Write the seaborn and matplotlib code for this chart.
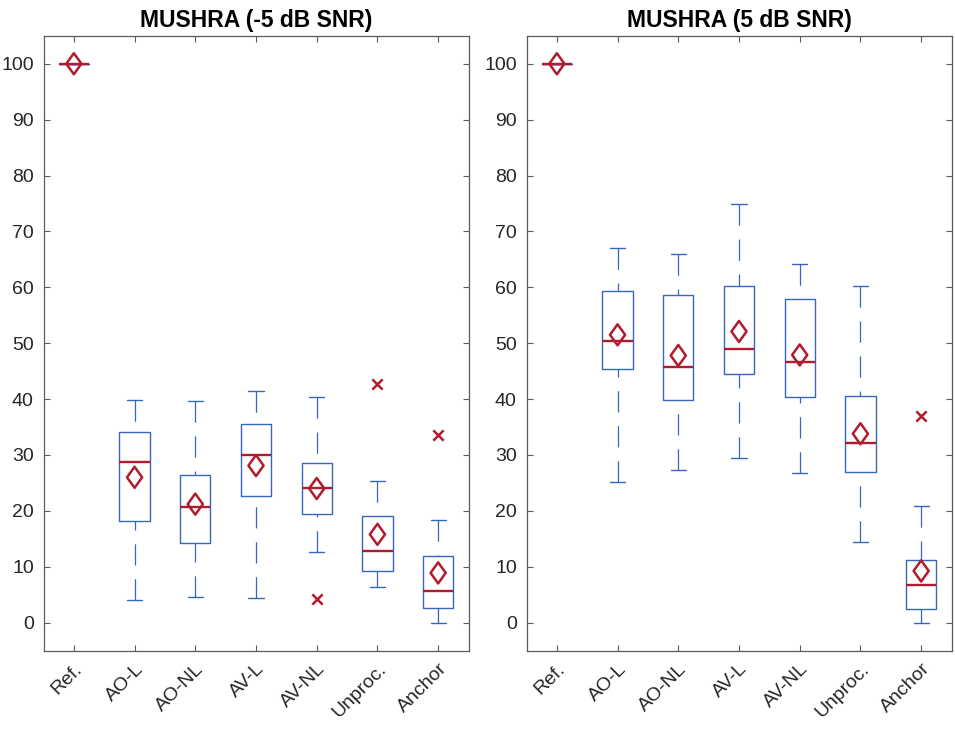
import numpy as np
import pandas as pd
import matplotlib
matplotlib.use("Agg")
import matplotlib.pyplot as plt
from matplotlib.path import Path
import seaborn as sns

categories = ["Ref.", "AO-L", "AO-NL", "AV-L", "AV-NL", "Unproc.", "Anchor"]

# -5 dB SNR
low_whislo = [100, 4.0, 4.6, 4.35, 12.6, 6.4, 0.0]
low_q1 = [100, 18.1, 14.2, 22.6, 19.5, 9.3, 2.7]
low_med = [100, 28.8, 20.75, 30.05, 24.15, 12.8, 5.7]
low_q3 = [100, 34.05, 26.5, 35.5, 28.55, 19.0, 12.0]
low_whishi = [100, 39.8, 39.65, 41.4, 40.3, 25.4, 18.4]
low_mean = [100, 26.0, 21.2, 28.1, 24.0, 15.8, 8.9]
low_fliers = [[], [], [], [], [4.2], [42.7], [33.5]]

# 5 dB SNR
high_whislo = [100, 25.1, 27.4, 29.4, 26.7, 14.5, 0.0]
high_q1 = [100, 45.3, 39.8, 44.5, 40.4, 27.0, 2.45]
high_med = [100, 50.4, 45.8, 49.0, 46.6, 32.15, 6.75]
high_q3 = [100, 59.3, 58.6, 60.2, 57.9, 40.5, 11.2]
high_whishi = [100, 67.0, 65.95, 74.9, 64.1, 60.2, 20.9]
high_mean = [100, 51.5, 47.8, 52.1, 47.9, 33.8, 9.25]
high_fliers = [[], [], [], [], [], [], [37.0]]

titles = ["MUSHRA (-5 dB SNR)", "MUSHRA (5 dB SNR)"]
yticks = list(range(0, 101, 10))

BLUE = "#3467c2"
RED = "#b01c2e"
GRAY = "#5a5a5a"

sns.set_theme(style="ticks")
plt.rcParams["font.family"] = ["Liberation Sans", "DejaVu Sans"]

fig = plt.figure(figsize=(9.55, 7.3), dpi=100)
W, H = 955, 730
ax_top, ax_bot = 35.8, 650.6
axes = [
    fig.add_axes([43.5 / W, (H - ax_bot) / H, 425 / W, (ax_bot - ax_top) / H]),
    fig.add_axes([526.5 / W, (H - ax_bot) / H, 425 / W, (ax_bot - ax_top) / H]),
]

diamond = Path([(0, 1), (0.72, 0), (0, -1), (-0.72, 0), (0, 1)],
               [Path.MOVETO, Path.LINETO, Path.LINETO, Path.LINETO, Path.CLOSEPOLY])

sets = [
    (low_whislo, low_q1, low_med, low_q3, low_whishi, low_mean, low_fliers),
    (high_whislo, high_q1, high_med, high_q3, high_whishi, high_mean, high_fliers),
]

for ax, title, (wlo, q1, med, q3, whi, mean, fl) in zip(axes, titles, sets):
    pos = np.arange(1, len(categories) + 1)
    stats = []
    for i, c in enumerate(categories):
        stats.append(dict(label=c, whislo=wlo[i], q1=q1[i], med=med[i],
                          q3=q3[i], whishi=whi[i], fliers=[]))
    res = ax.bxp(stats, positions=pos, widths=0.5, showfliers=False,
                 boxprops=dict(color=BLUE, lw=1.0),
                 whiskerprops=dict(color=BLUE, lw=0.9, linestyle=(0, (17, 11))),
                 capprops=dict(color=BLUE, lw=1.0),
                 medianprops=dict(color=RED, lw=1.7),
                 capwidths=0.25, manage_ticks=False)
    for ln in res["whiskers"]:
        ln.set_ydata(ln.get_ydata()[::-1])

    mdf = pd.DataFrame({"x": pos, "mean": mean})
    sns.scatterplot(data=mdf, x="x", y="mean", ax=ax, marker=diamond, s=230,
                    facecolor="none", edgecolor=RED, linewidth=1.8, zorder=5,
                    legend=False)
    fx, fy = [], []
    for i, f in enumerate(fl):
        for v in f:
            fx.append(pos[i])
            fy.append(v)
    if fx:
        fdf = pd.DataFrame({"x": fx, "y": fy})
        sns.scatterplot(data=fdf, x="x", y="y", ax=ax, marker="x", s=55,
                        color=RED, linewidth=1.8, zorder=5, legend=False)

    ax.set_xlim(0.5, len(categories) + 0.5)
    ax.set_ylim(-5, 105)
    ax.set_yticks(yticks)
    ax.set_xticks(pos)
    ax.set_xticklabels(categories, rotation=45, ha="right",
                       rotation_mode="anchor")
    ax.set_xlabel("")
    ax.set_ylabel("")
    ax.set_title(title, fontsize=16.5, fontweight="bold", pad=6, color="black")
    ax.tick_params(direction="in", length=4.5, width=0.8, color=GRAY,
                   labelsize=14, labelcolor="#262626",
                   top=True, right=True, pad=7)
    ax.tick_params(axis="x", pad=7)
    for sp in ax.spines.values():
        sp.set_visible(True)
        sp.set_color(GRAY)
        sp.set_linewidth(0.9)
    ax.grid(False)

fig.savefig("out.png", dpi=100)
